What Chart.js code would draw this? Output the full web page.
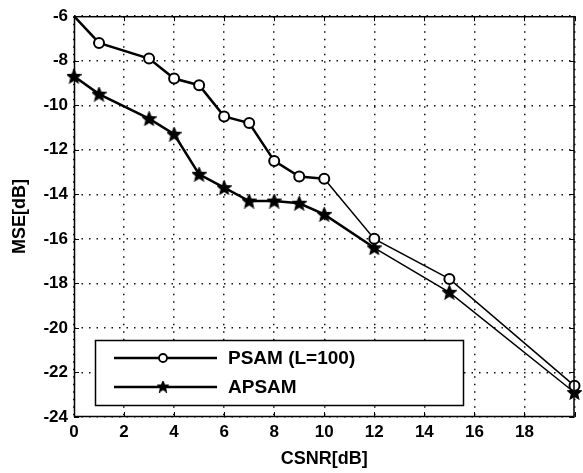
<!DOCTYPE html>
<html>
<head>
<meta charset="utf-8">
<script src="https://cdn.jsdelivr.net/npm/chart.js@4"></script>
<style>
    html, body { margin: 0; padding: 0; background: #fff; }
    #wrap { width: 583px; height: 473px; }
</style>
</head>
<body>
<div id="wrap"><canvas id="myChart" width="583" height="473"></canvas></div>
<script>
// CSNR values (x) and MSE curves (y)
const csnr = [0, 1, 3, 4, 5, 6, 7, 8, 9, 10, 12, 15, 20];
const psam = [-6.0, -7.2, -7.9, -8.8, -9.1, -10.5, -10.8, -12.5, -13.2, -13.3, -16.0, -17.8, -22.6];
const apsam = [-8.7, -9.5, -10.6, -11.3, -13.1, -13.7, -14.3, -14.3, -14.4, -14.9, -16.4, -18.4, -22.9];
const seriesNames = ['PSAM (L=100)', 'APSAM'];
const xTicks = [0, 2, 4, 6, 8, 10, 12, 14, 16, 18, 20];
const yTicks = [-6, -8, -10, -12, -14, -16, -18, -20, -22, -24];

const FONT = '"Liberation Sans", Arial, sans-serif';

// filled pentagram used as marker for APSAM
function makeStar(size) {
    const c = document.createElement('canvas');
    c.width = size; c.height = size;
    const g = c.getContext('2d');
    const cx = size / 2, cy = size / 2 + 0.5;
    const ro = size / 2 - 0.5, ri = ro * 0.45;
    g.beginPath();
    for (let i = 0; i < 10; i++) {
        const r = i % 2 === 0 ? ro : ri;
        const a = -Math.PI / 2 + i * Math.PI / 5;
        const px = cx + r * Math.cos(a), py = cy + r * Math.sin(a);
        if (i === 0) g.moveTo(px, py); else g.lineTo(px, py);
    }
    g.closePath();
    g.fillStyle = '#000';
    g.fill();
    g.lineWidth = 1.4;
    g.strokeStyle = '#000';
    g.stroke();
    return c;
}
const starBig = makeStar(15);
const starSmall = makeStar(12);

// solid frame + inward matlab style ticks
const framePlugin = {
    id: 'frame',
    afterDatasetsDraw(chart) {
        const { ctx, chartArea: a, scales } = chart;
        ctx.save();
        ctx.strokeStyle = '#000';
        ctx.lineWidth = 1;
        ctx.beginPath();
        const len = 5;
        xTicks.forEach(v => {
            const x = Math.round(scales.x.getPixelForValue(v)) + 0.5;
            ctx.moveTo(x, a.bottom); ctx.lineTo(x, a.bottom - len);
            ctx.moveTo(x, a.top); ctx.lineTo(x, a.top + len);
        });
        yTicks.forEach(v => {
            const y = Math.round(scales.y.getPixelForValue(v)) + 0.5;
            ctx.moveTo(a.left, y); ctx.lineTo(a.left + len, y);
            ctx.moveTo(a.right, y); ctx.lineTo(a.right - len, y);
        });
        ctx.stroke();
        ctx.lineWidth = 1.5;
        ctx.strokeRect(a.left + 0.5, a.top + 0.5, a.right - a.left - 1, a.bottom - a.top - 1);
        ctx.restore();
    }
};

// legend box in lower left, drawn like the matlab one
const legendPlugin = {
    id: 'boxLegend',
    afterDraw(chart) {
        const { ctx, chartArea: a } = chart;
        const bx = a.left + 21, by = a.bottom - 77, bw = 368, bh = 65;
        ctx.save();
        ctx.fillStyle = '#fff';
        ctx.fillRect(bx, by, bw, bh);
        ctx.strokeStyle = '#000';
        ctx.lineWidth = 1.5;
        ctx.strokeRect(bx + 0.5, by + 0.5, bw, bh);
        const rows = [by + 18, by + 47];
        rows.forEach((ry, i) => {
            ctx.lineWidth = 2.5;
            ctx.beginPath();
            ctx.moveTo(bx + 19, ry);
            ctx.lineTo(bx + 122, ry);
            ctx.stroke();
            const mx = bx + 68;
            if (i === 0) {
                ctx.beginPath();
                ctx.arc(mx, ry, 4, 0, Math.PI * 2);
                ctx.fillStyle = '#fff';
                ctx.fill();
                ctx.lineWidth = 1.8;
                ctx.stroke();
            } else {
                ctx.drawImage(starSmall, mx - 6, ry - 6.5);
            }
            ctx.fillStyle = '#000';
            ctx.font = 'bold 19px ' + FONT;
            ctx.textBaseline = 'middle';
            ctx.fillText(seriesNames[i], bx + 133, ry + 1);
        });
        ctx.restore();
    }
};

const ctx = document.getElementById('myChart').getContext('2d');
const chart = new Chart(ctx, {
    type: 'line',
    data: {
        labels: csnr,
        datasets: [{
            label: seriesNames[0],
            data: csnr.map((x, i) => ({ x: x, y: psam[i] })),
            borderColor: '#000',
            backgroundColor: '#fff',
            borderWidth: 2.5,
            pointStyle: 'circle',
            pointRadius: c => c.dataIndex === 0 ? 0 : 5,
            pointBorderWidth: 2,
            pointBorderColor: '#000',
            pointBackgroundColor: '#fff',
            segment: {
                borderWidth: s => s.p0.parsed.x < 10 ? 2.5 : 1.5
            },
            tension: 0,
            clip: false
        }, {
            label: seriesNames[1],
            data: csnr.map((x, i) => ({ x: x, y: apsam[i] })),
            borderColor: '#000',
            backgroundColor: '#000',
            borderWidth: 2.5,
            pointStyle: starBig,
            pointRadius: 6,
            segment: {
                borderWidth: s => s.p0.parsed.x < 12 ? 2.5 : 1.5
            },
            tension: 0,
            clip: false
        }]
    },
    options: {
        responsive: false,
        animation: false,
        layout: { padding: { top: 14, right: 1, left: 0, bottom: 0 } },
        plugins: {
            legend: { display: false },
            tooltip: { enabled: false }
        },
        scales: {
            x: {
                type: 'linear',
                min: 0,
                max: 20,
                afterBuildTicks: s => { s.ticks = xTicks.map(v => ({ value: v })); },
                afterFit: s => { s.height = 56; },
                ticks: {
                    color: '#000',
                    font: { family: FONT, size: 17, weight: 'bold' },
                    padding: 5,
                    maxRotation: 0,
                    callback: v => v === 20 ? '' : v
                },
                grid: { color: '#111', lineWidth: 1.5, drawTicks: false },
                border: { display: false, dash: [1.5, 6] },
                title: {
                    display: true,
                    text: 'CSNR[dB]',
                    color: '#000',
                    font: { family: FONT, size: 18, weight: 'bold' },
                    padding: { top: 0, bottom: 3 }
                }
            },
            y: {
                min: -24,
                max: -6,
                afterBuildTicks: s => { s.ticks = yTicks.map(v => ({ value: v })); },
                afterFit: s => { s.width = 74; },
                ticks: {
                    color: '#000',
                    font: { family: FONT, size: 17, weight: 'bold' },
                    padding: 6
                },
                grid: { color: '#111', lineWidth: 1.5, drawTicks: false },
                border: { display: false, dash: [1.5, 6] },
                title: {
                    display: true,
                    text: 'MSE[dB]',
                    color: '#000',
                    font: { family: FONT, size: 18, weight: 'bold' },
                    padding: { top: 9, bottom: 0 }
                }
            }
        }
    },
    plugins: [framePlugin, legendPlugin]
});
</script>
</body>
</html>
